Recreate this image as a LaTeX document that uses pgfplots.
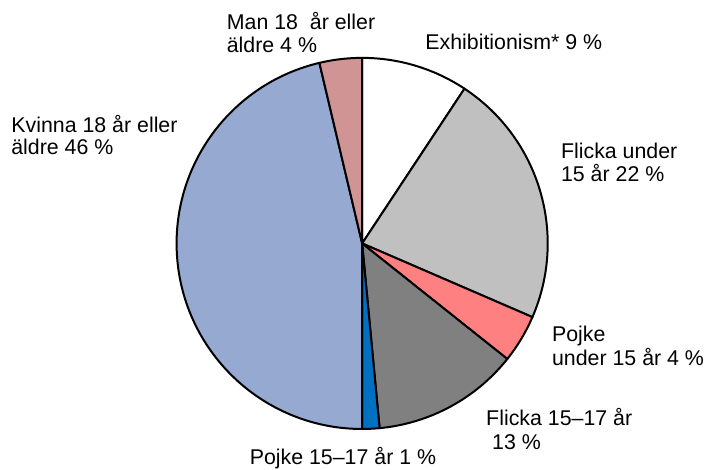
\documentclass[border=0pt]{standalone}
\usepackage{fontspec}
\setmainfont{Liberation Sans}
\usepackage{pgfplots}
\usepackage{pgfplotstable}
\pgfplotsset{compat=1.18}

\definecolor{c0}{RGB}{255,255,255}
\definecolor{c1}{RGB}{192,192,192}
\definecolor{c2}{RGB}{255,128,128}
\definecolor{c3}{RGB}{128,128,128}
\definecolor{c4}{RGB}{0,112,192}
\definecolor{c5}{RGB}{149,169,209}
\definecolor{c6}{RGB}{208,148,148}

% shares in percent, clockwise from 12 o'clock
\pgfplotstableread{
share
9.3
22.2
4.2
12.8
1.5
46.3
3.7
}\pietable

\begin{document}
\begin{tikzpicture}
\begin{axis}[
    x=0.5pt, y=0.5pt,
    xmin=0, xmax=704, ymin=0, ymax=470,
    y dir=reverse,
    hide axis, clip=false,
    anchor=origin,
]
\path (axis cs:0,0) rectangle (axis cs:704,470);
\gdef\cum{0}
\pgfplotsinvokeforeach{0,...,6}{
  \pgfplotstablegetelem{#1}{share}\of\pietable
  \pgfmathsetmacro{\aone}{90-3.6*\cum}
  \pgfmathsetmacro{\atwo}{90-3.6*(\cum+\pgfplotsretval)}
  \pgfmathsetmacro{\newcum}{\cum+\pgfplotsretval}
  \xdef\cum{\newcum}
  \edef\slice{\noexpand\filldraw[fill=c#1, draw=black, line width=1pt, line join=round]
    (axis cs:363,244) -- ++(\aone:93pt) arc[start angle=\aone, end angle=\atwo, radius=93pt] -- cycle;}
  \slice
}
\tikzset{lbl/.style={anchor=base west, inner sep=0pt, font=\fontsize{10.7}{12.8}\selectfont}}
\node[lbl] at (axis cs:227,29.5) {Man 18\ \ år eller};
\node[lbl] at (axis cs:227,52.5) {äldre 4 \%};
\node[lbl] at (axis cs:426,50) {Exhibitionism* 9 \%};
\node[lbl] at (axis cs:11,132.5) {Kvinna 18 år eller};
\node[lbl] at (axis cs:11,154.5) {äldre 46 \%};
\node[lbl] at (axis cs:562,158.5) {Flicka under};
\node[lbl] at (axis cs:562,181.5) {15 år 22 \%};
\node[lbl] at (axis cs:553,342) {Pojke};
\node[lbl] at (axis cs:553,366.5) {under 15 år 4 \%};
\node[lbl] at (axis cs:487,427) {Flicka 15–17 år};
\node[lbl] at (axis cs:493,450.5) {13 \%};
\node[lbl] at (axis cs:250,466) {Pojke 15–17 år 1 \%};
\end{axis}
\end{tikzpicture}
\end{document}
